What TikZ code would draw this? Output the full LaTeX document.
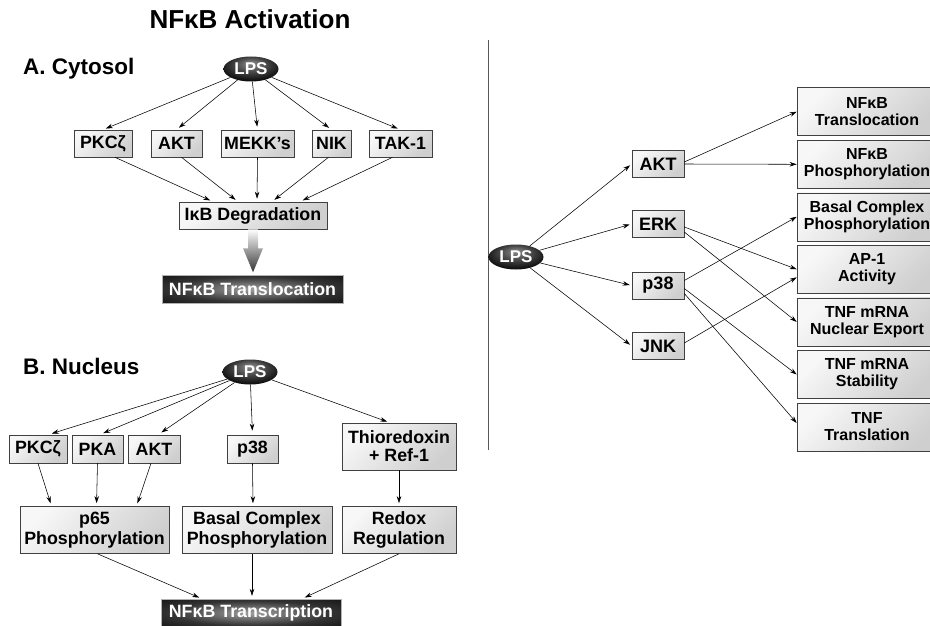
\documentclass[tikz,border=0pt]{standalone}
\usepackage{fontspec}
\setmainfont{Liberation Sans}
\usepackage{tikz}
\usetikzlibrary{shapes.geometric}
\usetikzlibrary{arrows.meta}

\newcommand{\ttlfont}{\fontsize{26}{28}\selectfont\bfseries}
\newcommand{\hdfont}{\fontsize{22.5}{24}\selectfont\bfseries}
\newcommand{\bxfont}{\fontsize{17.8}{19.5}\selectfont\bfseries}
\newcommand{\rbxfont}{\fontsize{16}{17}\selectfont\bfseries}

\pgfdeclareradialshading{lpsshade}{\pgfpoint{0bp}{12bp}}{%
  color(0bp)=(gray!90); color(16bp)=(black!75); color(32bp)=(black); color(50bp)=(black)}
\pgfdeclareradialshading{bannershade}{\pgfpoint{0bp}{0bp}}{%
  color(0bp)=(gray!75); color(22bp)=(gray!40!black); color(46bp)=(black); color(50bp)=(black)}

\begin{document}
\begin{tikzpicture}[x=1pt,y=-1pt,
  box/.style={draw=gray!50!black, line width=0.6pt, inner sep=0pt, align=center,
    top color=gray!6, bottom color=gray!38, shading angle=45, font=\bxfont},
  rbox/.style={box, minimum width=140, minimum height=48, font=\rbxfont},
  lps/.style={ellipse, inner sep=0pt, minimum width=55, minimum height=25,
    shading=lpsshade, text=white, font=\fontsize{17}{18}\selectfont\bfseries},
  banner/.style={rectangle, inner sep=0pt, draw=gray!60, line width=0.4pt,
    shading=bannershade, text=white, font=\bxfont},
  link/.style={-{Stealth[length=7pt,width=4.5pt]}, line width=0.55pt}]
\useasboundingbox (0,0) rectangle (930,626);

  %%%%%%% TITLE
  \node[font=\ttlfont] (title) at (250,19) {NFκB Activation};
  \node[font=\hdfont, anchor=west, inner sep=0pt] (cyto) at (23,69) {A. Cytosol};
  \node[font=\hdfont, anchor=west, inner sep=0pt] (nucl) at (23,366) {B. Nucleus};

  %%%%%%% A. CYTOSOL
  \node[lps] (lpsA) at (251,69) {LPS};
  \node[box, minimum width=58, minimum height=27] (pkcA) at (103,143.5) {PKCζ};
  \node[box, minimum width=51, minimum height=27] (aktA) at (176.5,143.5) {AKT};
  \node[box, minimum width=73, minimum height=27] (mekA) at (257.5,143.5) {MEKK’s};
  \node[box, minimum width=39, minimum height=27] (nikA) at (331.5,143.5) {NIK};
  \node[box, minimum width=63, minimum height=27] (takA) at (400.5,143.5) {TAK-1};
  \node[box, minimum width=148, minimum height=27] (ikb) at (253,215.5) {IκB Degradation};
  \node[banner, minimum width=181, minimum height=28] (transA) at (252.5,289) {NFκB Translocation};

  \draw[link, shorten >=3pt] (lpsA) -- (pkcA.north);
  \draw[link, shorten >=3pt] (lpsA) -- (aktA.north);
  \draw[link, shorten >=3pt] (lpsA) -- (mekA.north);
  \draw[link, shorten >=3pt] (lpsA) -- (nikA.north);
  \draw[link, shorten >=3pt] (lpsA) -- (takA.north);

  \draw[link, shorten >=3pt] ([xshift=12pt]pkcA.south) -- ([xshift=-40pt]ikb.north);
  \draw[link, shorten >=3pt] ([xshift=5pt]aktA.south) -- ([xshift=-15pt]ikb.north);
  \draw[link, shorten >=3pt] (mekA.south) -- ([xshift=4pt]ikb.north);
  \draw[link, shorten >=3pt] ([xshift=-3pt]nikA.south) -- ([xshift=19pt]ikb.north);
  \draw[link, shorten >=3pt] ([xshift=-8pt]takA.south) -- ([xshift=47pt]ikb.north);

  % big shaded arrow
  \shade[top color=white, bottom color=black!80]
    ([xshift=-5pt]ikb.south) -- ++(10,0) -- ++(0,19) -- ++(5,0) -- ++(-10,24)
    -- ++(-10,-24) -- ++(5,0) -- cycle;

  %%%%%%% B. NUCLEUS
  \node[lps] (lpsB) at (250,372) {LPS};
  \node[box, minimum width=58, minimum height=28] (pkcB) at (38,449) {PKCζ};
  \node[box, minimum width=51, minimum height=28] (pkaB) at (97.5,449) {PKA};
  \node[box, minimum width=52, minimum height=28] (aktB) at (154,449) {AKT};
  \node[box, minimum width=51, minimum height=28] (p38B) at (252.5,449) {p38};
  \node[box, minimum width=114, minimum height=47] (thio) at (399,446.5) {Thioredoxin\\[-1.5pt]+ Ref-1};
  \node[box, minimum width=149, minimum height=47] (p65) at (94.5,530) {p65\\Phosphorylation};
  \node[box, minimum width=150, minimum height=47] (basB) at (257,530) {Basal Complex\\Phosphorylation};
  \node[box, minimum width=114, minimum height=47] (redox) at (399,530) {Redox\\Regulation};
  \node[banner, minimum width=180, minimum height=28] (transB) at (251,613) {NFκB Transcription};

  \draw[link, shorten >=4pt] (lpsB) -- ([xshift=10pt]pkcB.north);
  \draw[link, shorten >=4pt] (lpsB) -- ([xshift=2pt]pkaB.north);
  \draw[link, shorten >=4pt] (lpsB) -- ([xshift=4pt]aktB.north);
  \draw[link, shorten >=4pt] (lpsB) -- (p38B.north);
  \draw[link, shorten >=3pt] (lpsB) -- ([xshift=-9pt]thio.north);

  \draw[link, shorten >=3pt] (pkcB.south) -- ([xshift=-43pt]p65.north);
  \draw[link, shorten >=3pt] (pkaB.south) -- ([xshift=2pt]p65.north);
  \draw[link, shorten >=3pt] ([xshift=-3pt]aktB.south) -- ([xshift=42pt]p65.north);
  \draw[link, shorten >=3pt] (p38B.south) -- ([xshift=-4pt]basB.north);
  \draw[link, shorten >=3pt] (thio.south) -- (redox.north);

  \draw[link, shorten >=3pt] ([xshift=3pt]p65.south) -- ([xshift=-49pt]transB.north);
  \draw[link, shorten >=3pt] ([xshift=-5pt]basB.south) -- ([xshift=1pt]transB.north);
  \draw[link, shorten >=3pt] (redox.south) -- ([xshift=51pt]transB.north);

  %%%%%%% DIVIDER
  \draw[gray!70!black, line width=0.9pt] (488,40) -- (488,450);

  %%%%%%% RIGHT PANEL
  \node[lps] (lpsR) at (516,257) {LPS};
  \node[box, minimum width=52, minimum height=27, font=\fontsize{18}{20}\selectfont\bfseries] (aktR) at (658,164) {AKT};
  \node[box, minimum width=52, minimum height=27, font=\fontsize{18}{20}\selectfont\bfseries] (erkR) at (658,224) {ERK};
  \node[box, minimum width=52, minimum height=27, font=\fontsize{18}{20}\selectfont\bfseries] (p38R) at (658,285.5) {p38};
  \node[box, minimum width=52, minimum height=27, font=\fontsize{18}{20}\selectfont\bfseries] (jnkR) at (658,346) {JNK};

  \node[rbox] (trl) at (867,111.7) {NFκB\\Translocation};
  \node[rbox] (phos) at (867,164.3) {NFκB\\Phosphorylation};
  \node[rbox] (basR) at (867,216.8) {Basal Complex\\Phosphorylation};
  \node[rbox] (ap1) at (867,269.3) {AP-1\\Activity};
  \node[rbox] (nucx) at (867,321.9) {TNF mRNA\\Nuclear Export};
  \node[rbox] (stab) at (867,374.5) {TNF mRNA\\Stability};
  \node[rbox] (tnft) at (867,427) {TNF\\Translation};

  \draw[link, shorten >=2pt] (lpsR) -- (aktR.west);
  \draw[link, shorten >=2pt] (lpsR) -- (erkR.west);
  \draw[link, shorten >=2pt] (lpsR) -- (p38R.west);
  \draw[link, shorten >=2pt] (lpsR) -- (jnkR.west);

  \draw[link] ([yshift=2pt]aktR.east) -- (trl.west);
  \draw[link] (aktR.east) -- (phos.west);
  \draw[link] ([yshift=-3pt]erkR.east) -- (ap1.west);
  \draw[link] ([yshift=-8pt]erkR.east) -- (nucx.west);
  \draw[link] ([yshift=5pt]p38R.east) -- (basR.west);
  \draw[link] ([yshift=-3pt]p38R.east) -- (stab.west);
  \draw[link] ([yshift=-8pt]p38R.east) -- ([yshift=4pt]tnft.west);
  \draw[link] ([yshift=3pt]jnkR.east) -- ([yshift=-8pt]ap1.west);
\end{tikzpicture}
\end{document}
